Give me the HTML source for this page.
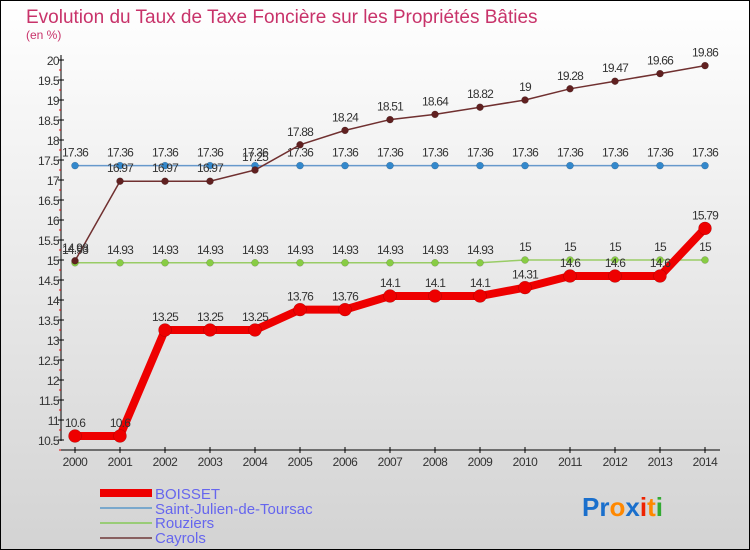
<!DOCTYPE html>
<html><head><meta charset="utf-8"><style>
body{margin:0}
svg{display:block;font-family:"Liberation Sans",sans-serif}
</style></head><body>
<svg id="c" width="750" height="550" xmlns="http://www.w3.org/2000/svg">
<defs><linearGradient id="bg" x1="0" y1="0" x2="0" y2="1"><stop offset="0" stop-color="#ffffff"/><stop offset="1" stop-color="#d3d3d3"/></linearGradient></defs>
<rect x="0.5" y="0.5" width="749" height="549" fill="url(#bg)" stroke="#000"/>
<text x="26" y="23" font-size="19" fill="#c8336a" font-weight="300">Evolution du Taux de Taxe Foncière sur les Propriétés Bâties</text>
<text x="26" y="39" font-size="12" fill="#c8336a">(en %)</text>
<g id="axes"></g><g id="series"></g>
<g>
<line x1="100" y1="493" x2="152" y2="493" stroke="#ee0000" stroke-width="8"/>
<text x="155" y="499" font-size="15" fill="#6666ee">BOISSET</text>
<line x1="100" y1="508" x2="152" y2="508" stroke="#7aa8cc" stroke-width="2"/>
<text x="155" y="514" font-size="15" fill="#6666ee">Saint-Julien-de-Toursac</text>
<line x1="100" y1="523" x2="152" y2="523" stroke="#99cc77" stroke-width="2"/>
<text x="155" y="528" font-size="15" fill="#6666ee">Rouziers</text>
<line x1="100" y1="538" x2="152" y2="538" stroke="#886060" stroke-width="2"/>
<text x="155" y="543" font-size="15" fill="#6666ee">Cayrols</text>
</g>
<text x="582" y="516" font-size="26" font-weight="bold"><tspan fill="#1a6fcc">Pr</tspan><tspan fill="#ff8800">o</tspan><tspan fill="#1a6fcc">x</tspan><tspan fill="#ee2200">i</tspan><tspan fill="#ff8800">t</tspan><tspan fill="#33aa33">i</tspan></text>
</svg>
<script>
const years=[2000,2001,2002,2003,2004,2005,2006,2007,2008,2009,2010,2011,2012,2013,2014];
const boisset=[10.6,10.6,13.25,13.25,13.25,13.76,13.76,14.1,14.1,14.1,14.31,14.6,14.6,14.6,15.79];
const stjulien=[17.36,17.36,17.36,17.36,17.36,17.36,17.36,17.36,17.36,17.36,17.36,17.36,17.36,17.36,17.36];
const rouziers=[14.93,14.93,14.93,14.93,14.93,14.93,14.93,14.93,14.93,14.93,15,15,15,15,15];
const cayrols=[14.98,16.97,16.97,16.97,17.25,17.88,18.24,18.51,18.64,18.82,19,19.28,19.47,19.66,19.86];
const yTicks=[10.5,11,11.5,12,12.5,13,13.5,14,14.5,15,15.5,16,16.5,17,17.5,18,18.5,19,19.5,20];
const NS="http://www.w3.org/2000/svg";
const xs=i=>75+i*45, ys=v=>60+(20-v)*40;
function mk(t,a,p){const e=document.createElementNS(NS,t);for(const k in a)e.setAttribute(k,a[k]);p.appendChild(e);return e;}
const ax=document.getElementById('axes'), sg=document.getElementById('series');
const yl=mk('line',{x1:61,y1:55,x2:61,y2:441,stroke:'#000'},ax);


const xl=mk('line',{x1:61,y1:450,x2:720,y2:450,stroke:'#000'},ax);


yTicks.forEach(v=>{const y=ys(v);mk('line',{x1:58,y1:y,x2:64,y2:y,stroke:'#000'},ax);
mk('line',{x1:59,y1:y+10,x2:61,y2:y+10,stroke:'#e00'},ax);
const t=mk('text',{x:59,y:y+5,'font-size':12,fill:'#333','text-anchor':'end','letter-spacing':'-0.6'},ax);t.textContent=v;

});
years.forEach((yr,i)=>{const x=xs(i);mk('line',{x1:x,y1:447,x2:x,y2:453,stroke:'#000'},ax);
const t=mk('text',{x:x,y:466,'font-size':12,fill:'#333','text-anchor':'middle','letter-spacing':'-0.5'},ax);t.textContent=yr;

});
function series(name,data,color,w,r,dot){
const g=mk('g',{},sg);


mk('polyline',{points:data.map((v,i)=>xs(i)+','+ys(v)).join(' '),fill:'none',stroke:color,'stroke-width':w},g);
data.forEach((v,i)=>{const c=mk('circle',{cx:xs(i),cy:ys(v),r:r,fill:dot,stroke:'#0004','stroke-width':0.5},g);


const t=mk('text',{x:xs(i),y:ys(v)-9,'font-size':12,fill:'#333','text-anchor':'middle','letter-spacing':'-0.8'},g);t.textContent=v;

});}
series('rouziers-series',rouziers,'#99cc66',1.5,3.5,'#88cc44');
series('saint-julien-series',stjulien,'#6699cc',1.5,3.5,'#3388cc');
series('cayrols-series',cayrols,'#703030',1.5,3.5,'#602020');
series('boisset-series',boisset,'#ee0000',8,6.5,'#ee0000');
</script>
</body></html>
